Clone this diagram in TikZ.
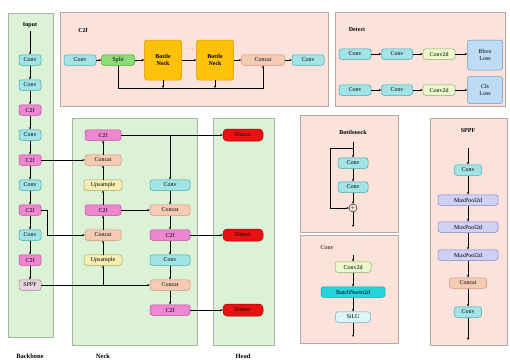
\documentclass[tikz,border=0pt]{standalone}
\usepackage{fontspec}
\setmainfont{Liberation Serif}
\usetikzlibrary{arrows.meta,positioning,calc,shapes}

\definecolor{convF}{HTML}{A3E4E6}   \definecolor{convD}{HTML}{3AA8B0}
\definecolor{ctfF}{HTML}{EE86D2}    \definecolor{ctfD}{HTML}{C2449E}
\definecolor{catF}{HTML}{F6CBB4}    \definecolor{catD}{HTML}{D29274}
\definecolor{upF}{HTML}{F6EEB4}     \definecolor{upD}{HTML}{B2A444}
\definecolor{splF}{HTML}{8CDC78}    \definecolor{splD}{HTML}{44A232}
\definecolor{bnkF}{HTML}{FFC20A}    \definecolor{bnkD}{HTML}{D49400}
\definecolor{ctdF}{HTML}{EEF8CE}    \definecolor{ctdD}{HTML}{84B454}
\definecolor{lossF}{HTML}{BEDCF4}   \definecolor{lossD}{HTML}{6A94C2}
\definecolor{sppF}{HTML}{E8D6DE}    \definecolor{sppD}{HTML}{A88494}
\definecolor{detF}{HTML}{E81212}    \definecolor{detD}{HTML}{A00000}
\definecolor{mpF}{HTML}{CED0F6}     \definecolor{mpD}{HTML}{8284C4}
\definecolor{bnF}{HTML}{26D4DC}     \definecolor{bnD}{HTML}{10A0A8}
\definecolor{siluF}{HTML}{DCF6FA}   \definecolor{siluD}{HTML}{62B2C2}
\definecolor{pgF}{HTML}{DCF2D6}     \definecolor{pgD}{HTML}{A6B6A6}
\definecolor{ppF}{HTML}{FBE3DC}     \definecolor{ppD}{HTML}{BAA8A0}

\tikzset{
  blk/.style={draw, rounded corners=2.5pt, line width=0.5pt, minimum height=10.5pt,
    inner sep=0.8pt, font=\fontsize{6}{6.8}\selectfont},
  convnode/.style={blk, fill=convF, draw=convD, minimum width=22pt},
  ctfnode/.style={blk, fill=ctfF, draw=ctfD, minimum width=22pt},
  catnode/.style={blk, fill=catF, draw=catD, minimum width=36pt},
  upnode/.style={blk, fill=upF, draw=upD, minimum width=38pt},
  splnode/.style={blk, fill=splF, draw=splD, minimum width=33pt},
  bnknode/.style={blk, fill=bnkF, draw=bnkD, minimum width=37pt, minimum height=40pt,
    align=center, font=\fontsize{6}{7.5}\selectfont\bfseries},
  ctdnode/.style={blk, fill=ctdF, draw=ctdD, minimum width=32pt},
  lossnode/.style={blk, fill=lossF, draw=lossD, minimum width=35pt, align=center},
  sppnode/.style={blk, fill=sppF, draw=sppD, minimum width=22pt},
  detnode/.style={blk, fill=detF, draw=detD, minimum width=40pt, minimum height=12pt, rounded corners=4pt},
  mpnode/.style={blk, fill=mpF, draw=mpD, minimum width=60pt},
  bnnode/.style={blk, fill=bnF, draw=bnD, minimum width=64pt},
  silunode/.style={blk, fill=siluF, draw=siluD, minimum width=35pt},
  arr/.style={-{Stealth[length=2.4pt,width=2.2pt]}, line width=0.45pt},
  panelg/.style={draw=pgD, fill=pgF, line width=0.5pt},
  panelp/.style={draw=ppD, fill=ppF, line width=0.5pt},
  ttl/.style={font=\fontsize{6}{7}\selectfont\bfseries},
  foot/.style={font=\fontsize{6.5}{7.5}\selectfont\bfseries}
}

\begin{document}
\begin{tikzpicture}[x=1pt, y=-1pt]
\useasboundingbox (0,0) rectangle (510,362);

% panels
\draw[panelg] (8,13) rectangle (53,337);
\draw[panelg] (72,118) rectangle (197,345);
\draw[panelg] (213,118) rectangle (274,345);
\draw[panelp] (60,12) rectangle (328,106);
\draw[panelp] (335,12) rectangle (505,106);
\draw[panelp] (300,115) rectangle (398,232);
\draw[panelp] (300,235) rectangle (398,343);
\draw[panelp] (430,118) rectangle (507,345);

\node[foot] (lbb) at (30,356) {Backbone};
\node[foot] (lnk) at (103,356) {Neck};
\node[foot] (lhd) at (243,356) {Head};

% backbone
\node[ttl] (inp) at (30,25) {Input};
\foreach \i/\t/\s in {0/Conv/convnode,1/Conv/convnode,2/C2f/ctfnode,3/Conv/convnode,4/C2f/ctfnode,
  5/Conv/convnode,6/C2f/ctfnode,7/Conv/convnode,8/C2f/ctfnode,9/SPPF/sppnode}
  \node[\s] (b\i) at (30,60+25*\i) {\t};
\draw[arr] (inp) -- (b0);
\foreach \i [count=\j from 1] in {0,...,8} \draw[arr] (b\i) -- (b\j);

% neck
\node[ctfnode, minimum width=36pt] (n1) at (103,135) {C2f};
\node[catnode] (n2) at (103,160) {Concat};
\node[upnode] (n3) at (103,185) {Upsample};
\node[ctfnode, minimum width=36pt] (n4) at (103,210) {C2f};
\node[catnode] (n5) at (103,235) {Concat};
\node[upnode] (n6) at (103,260) {Upsample};
\node[convnode, minimum width=40pt] (n7) at (170,185) {Conv};
\node[catnode, minimum width=40pt] (n8) at (170,210) {Concat};
\node[ctfnode, minimum width=40pt] (n9) at (170,235) {C2f};
\node[convnode, minimum width=40pt] (n10) at (170,260) {Conv};
\node[catnode, minimum width=40pt] (n11) at (170,285) {Concat};
\node[ctfnode, minimum width=40pt] (n12) at (170,310) {C2f};

% head
\foreach \k/\y in {1/135,2/235,3/310} \node[detnode] (h\k) at (243,\y) {Detect};

\draw[arr] (b9) -- (n11);
\coordinate (j1) at (n6 |- b9);
\draw[arr] (j1) -- (n6);
\draw[arr] (n6) -- (n5); \draw[arr] (n5) -- (n4); \draw[arr] (n4) -- (n3);
\draw[arr] (n3) -- (n2); \draw[arr] (n2) -- (n1);
\draw[arr] (b6.east) -- ++(6,0) |- (n5.west);
\draw[arr] (b4) -- (n2);
\draw[arr] (n1) -- (h1);
\coordinate (j2) at (n7 |- n1);
\draw[arr] (j2) -- (n7);
\draw[arr] (n7) -- (n8); \draw[arr] (n4) -- (n8);
\draw[arr] (n8) -- (n9); \draw[arr] (n9) -- (h2);
\draw[arr] (n9) -- (n10); \draw[arr] (n10) -- (n11);
\draw[arr] (n11) -- (n12); \draw[arr] (n12) -- (h3);

% C2f module
\node[ttl] (tc2f) at (83,30) {C2f};
\node[convnode, minimum width=32pt] (c1) at (80,60) {Conv};
\node[splnode] (c2) at (118,60) {Split};
\node[bnknode] (c3) at (163,60) {Bottle\\Neck};
\node[bnknode] (c4) at (215,60) {Bottle\\Neck};
\node[catnode, minimum width=43pt] (c5) at (263,60) {Concat};
\node[convnode, minimum width=32pt] (c6) at (308,60) {Conv};
\node[font=\fontsize{5}{6}\selectfont] (cdots) at (189,49) {$\cdots$};
\foreach \a/\b in {c1/c2,c2/c3,c3/c4,c4/c5,c5/c6} \draw[arr] (\a) -- (\b);
\coordinate (cbl) at (118,88);
\coordinate (cbr) at (263,88);
\draw[arr] (c2) -- (cbl) -- (cbr) -- (c5);
\draw[arr] (c3) -- (c3 |- cbl);
\draw[arr] (c4) -- (c4 |- cbl);

% Detect module
\node[ttl] (tdet) at (357,30) {Detect};
\foreach \r/\y in {1/54,2/90} {
  \node[convnode, minimum width=32pt] (d\r a) at (355,\y) {Conv};
  \node[convnode, minimum width=31pt] (d\r b) at (397,\y) {Conv};
  \node[ctdnode] (d\r c) at (439,\y) {Conv2d};
}
\node[lossnode, minimum height=30pt] (d1d) at (485,55) {Bbox\\Loss};
\node[lossnode, minimum height=27pt] (d2d) at (485,90) {Cls\\Loss};
\foreach \r in {1,2} {
  \draw[arr] (d\r a) -- (d\r b);
  \draw[arr] (d\r b) -- (d\r c);
  \draw[arr] (d\r c) -- (d\r c -| d\r d.west);
}

% Bottleneck module
\node[ttl] (tbn) at (353,132) {Bottleneck};
\coordinate (bt) at (353,142);
\node[convnode, minimum width=30pt] (k1) at (353,163) {Conv};
\node[convnode, minimum width=30pt] (k2) at (353,187) {Conv};
\node[draw, circle, inner sep=0pt, minimum size=8pt, font=\fontsize{5}{5}\selectfont] (kadd) at (353,208) {$+$};
\coordinate (kb) at (353,227);
\coordinate (kr) at (353,148);
\draw[arr] (bt) -- (k1);
\draw[arr] (k1) -- (k2);
\draw[arr] (k2) -- (kadd);
\draw[arr] (kr) -- ++(-23,0) |- (kadd);
\draw[arr] (kadd) -- (kb);

% Conv module
\node[font=\fontsize{6}{7}\selectfont] (tcv) at (327,248) {Conv};
\coordinate (vt) at (353,255);
\node[ctdnode, minimum width=36pt] (v1) at (353,267) {Conv2d};
\node[bnnode] (v2) at (353,292) {BatchNorm2d};
\node[silunode] (v3) at (353,317) {SiLU};
\coordinate (vb) at (353,337);
\draw[arr] (vt) -- (v1); \draw[arr] (v1) -- (v2);
\draw[arr] (v2) -- (v3); \draw[arr] (v3) -- (vb);

% SPPF module
\node[ttl] (tsp) at (468,131) {SPPF};
\coordinate (st) at (468,148);
\node[convnode, minimum width=27pt] (s1) at (468,170) {Conv};
\foreach \k/\y in {2/200,3/227,4/255} \node[mpnode] (s\k) at (468,\y) {MaxPool2d};
\node[catnode, minimum width=37pt] (s5) at (468,283) {Concat};
\node[convnode, minimum width=27pt] (s6) at (468,312) {Conv};
\coordinate (sb) at (468,340);
\draw[arr] (st) -- (s1);
\foreach \i [count=\j from 2] in {1,...,5} \draw[arr] (s\i) -- (s\j);
\draw[arr] (s6) -- (sb);
\end{tikzpicture}
\end{document}
